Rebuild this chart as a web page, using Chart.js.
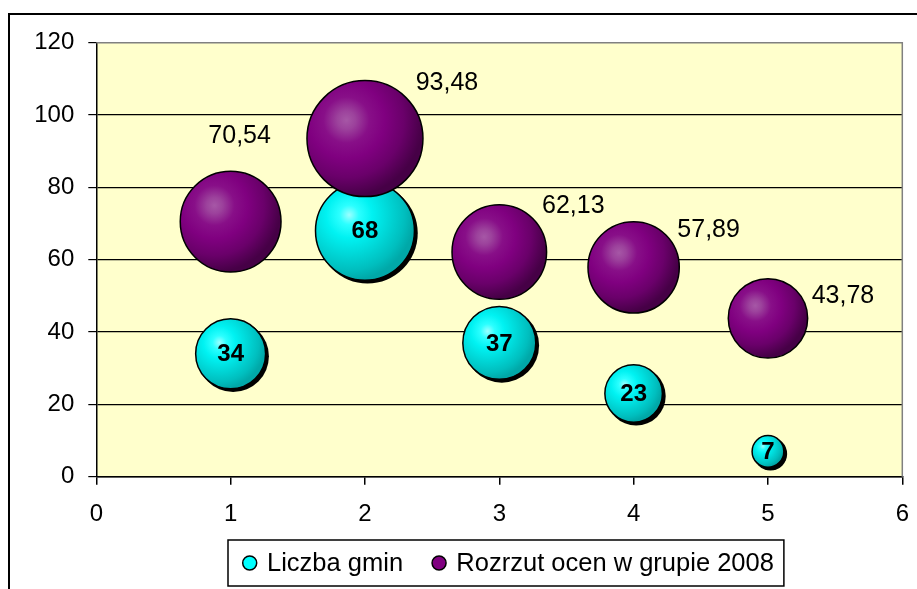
<!DOCTYPE html>
<html>
<head>
<meta charset="utf-8">
<script src="https://cdn.jsdelivr.net/npm/chart.js@4/dist/chart.umd.min.js"></script>
<style>
  html, body { margin: 0; padding: 0; background: #ffffff; }
  #wrap { width: 917px; height: 589px; position: relative; }
</style>
</head>
<body>
<div id="wrap"><canvas id="c" width="917" height="589"></canvas></div>
<script>
// ---- data ----
const xCategories = [1, 2, 3, 4, 5];
const liczbaGmin = [34, 68, 37, 23, 7];
const rozrzutOcen = [70.54, 93.48, 62.13, 57.89, 43.78];
const seriesNames = ['Liczba gmin', 'Rozrzut ocen w grupie 2008'];
const xTicks = [0, 1, 2, 3, 4, 5, 6];
const yTicks = [0, 20, 40, 60, 80, 100, 120];

// ---- styling ----
const FONT = "'Liberation Sans', Arial, sans-serif";
const MAX_R = 58; // pixel radius of the largest bubble (area-proportional sizing)
const maxSize = Math.max(...liczbaGmin, ...rozrzutOcen);
const radiusFor = s => MAX_R * Math.sqrt(s / maxSize);

// label offsets (pixels) for purple series labels relative to bubble centers
const purpleLabelOffsets = [[9, -86], [82, -57], [74, -47], [75, -38], [75, -23]];

function toPoints(vals) {
  return xCategories.map((x, i) => ({ x: x, y: vals[i], r: radiusFor(vals[i]) }));
}

function gradientFn(stops, fallback) {
  return function (ctx) {
    const chart = ctx.chart;
    if (ctx.type !== 'data' || !chart.chartArea || !chart.scales.x) return fallback;
    const raw = ctx.raw;
    const x = chart.scales.x.getPixelForValue(raw.x);
    const y = chart.scales.y.getPixelForValue(raw.y);
    const r = raw.r;
    const gx = x - 0.32 * r, gy = y - 0.32 * r;
    const g = chart.ctx.createRadialGradient(gx, gy, 0, gx, gy, 1.32 * r);
    stops.forEach(s => g.addColorStop(s[0], s[1]));
    return g;
  };
}

const purpleStops = [[0, '#A657A6'], [0.12, '#9C429C'], [0.3, '#880F88'], [0.5, '#800080'], [0.75, '#6A006A'], [1, '#460046']];
const cyanStops = [[0, '#9CFFFF'], [0.15, '#2BFFFF'], [0.35, '#00F2F2'], [0.6, '#00D8D8'], [0.85, '#00BEBE'], [1, '#00A8A8']];

const bgPlugin = {
  id: 'bg',
  beforeDraw(chart) {
    const { ctx, chartArea: a } = chart;
    ctx.save();
    ctx.fillStyle = '#FFFFCC';
    ctx.fillRect(a.left, a.top, a.right - a.left, a.bottom - a.top);
    ctx.restore();
  },
  afterDraw(chart) {
    const { ctx, chartArea: a } = chart;
    ctx.save();
    ctx.strokeStyle = '#808080';
    ctx.lineWidth = 1.5;
    ctx.beginPath();
    ctx.moveTo(a.left, a.top);
    ctx.lineTo(a.right, a.top);
    ctx.lineTo(a.right, a.bottom);
    ctx.stroke();
    ctx.strokeStyle = '#000000';
    ctx.lineWidth = 2;
    ctx.strokeRect(9, 14, 930, 600);
    ctx.restore();
    drawLegend(chart);
  }
};

// solid offset shadow under the cyan bubbles
const shadowPlugin = {
  id: 'shadow',
  beforeDatasetDraw(chart, args) {
    if (args.index !== 0) return;
    const ctx = chart.ctx;
    ctx.save();
    ctx.fillStyle = '#000';
    args.meta.data.forEach(el => {
      const r = el.options.radius;
      ctx.beginPath();
      ctx.arc(el.x + 2.5, el.y + 2.5, r + 0.8, 0, Math.PI * 2);
      ctx.fill();
    });
    ctx.restore();
  }
};

const labelPlugin = {
  id: 'labels',
  afterDatasetsDraw(chart) {
    const ctx = chart.ctx;
    const xs = chart.scales.x, ys = chart.scales.y;
    ctx.save();
    ctx.textAlign = 'center';
    ctx.textBaseline = 'middle';
    ctx.fillStyle = '#000';
    ctx.font = 'bold 24px ' + FONT;
    liczbaGmin.forEach((v, i) => {
      const x = xs.getPixelForValue(xCategories[i]);
      const y = ys.getPixelForValue(v);
      ctx.fillText(String(v), x, y + 1);
    });
    ctx.font = '25px ' + FONT;
    rozrzutOcen.forEach((v, i) => {
      const x = xs.getPixelForValue(xCategories[i]);
      const y = ys.getPixelForValue(v);
      const o = purpleLabelOffsets[i];
      ctx.fillText(v.toFixed(2).replace('.', ','), x + o[0], y + o[1] + 1);
    });
    ctx.restore();
  }
};

function drawLegend(chart) {
  const ctx = chart.ctx;
  ctx.save();
  ctx.font = '25.5px ' + FONT;
  const colors = ['#00FFFF', '#800080'];
  const left = 228, top = 540, h = 46;
  const cy = top + h / 2;
  let x = left + 21.7;
  const pos = [];
  seriesNames.forEach((name) => {
    const w = ctx.measureText(name).width;
    pos.push([x, x + 17.3, w]);
    x = x + 17.3 + w + 36;
  });
  const last = pos[pos.length - 1];
  const right = last[1] + last[2] + 10;
  ctx.lineWidth = 1.5;
  ctx.strokeStyle = '#000';
  ctx.fillStyle = '#fff';
  ctx.fillRect(left, top, right - left, h);
  ctx.strokeRect(left, top, right - left, h);
  pos.forEach((p, i) => {
    ctx.beginPath();
    ctx.arc(p[0], cy, 7, 0, Math.PI * 2);
    ctx.fillStyle = colors[i];
    ctx.fill();
    ctx.lineWidth = 1.5;
    ctx.stroke();
    ctx.fillStyle = '#000';
    ctx.textAlign = 'left';
    ctx.textBaseline = 'middle';
    ctx.fillText(seriesNames[i], p[1], cy + 1);
  });
  ctx.restore();
}

new Chart(document.getElementById('c'), {
  type: 'bubble',
  data: {
    datasets: [
      {
        label: seriesNames[0],
        data: toPoints(liczbaGmin),
        backgroundColor: gradientFn(cyanStops, '#00E0E0'),
        borderColor: '#000',
        borderWidth: 1.5,
        clip: false,
        order: 1
      },
      {
        label: seriesNames[1],
        data: toPoints(rozrzutOcen),
        backgroundColor: gradientFn(purpleStops, '#800080'),
        borderColor: '#000',
        borderWidth: 1.5,
        clip: false,
        order: 0
      }
    ]
  },
  options: {
    responsive: false,
    animation: false,
    events: [],
    layout: { autoPadding: false, padding: { left: 0, top: 42.7, right: 14.7, bottom: 62.3 } },
    plugins: {
      legend: { display: false },
      tooltip: { enabled: false }
    },
    scales: {
      x: {
        type: 'linear',
        min: xTicks[0],
        max: xTicks[xTicks.length - 1],
        afterBuildTicks: s => { s.ticks = xTicks.map(v => ({ value: v })); },
        afterFit: s => { s.height = 50; s.paddingLeft = 0; s.paddingRight = 0; },
        ticks: { color: '#000', font: { family: FONT, size: 24 }, padding: 15, maxRotation: 0 },
        grid: { drawOnChartArea: false, drawTicks: true, tickLength: 8, color: '#000', tickColor: '#000', lineWidth: 1.5 },
        border: { display: true, color: '#000', width: 1.5 }
      },
      y: {
        type: 'linear',
        min: yTicks[0],
        max: yTicks[yTicks.length - 1],
        afterBuildTicks: s => { s.ticks = yTicks.map(v => ({ value: v })); },
        afterFit: s => { s.width = 96.3; s.paddingTop = 0; s.paddingBottom = 0; },
        ticks: { color: '#000', font: { family: FONT, size: 24 }, padding: 14 },
        grid: {
          color: c => (c.tick && c.tick.value === yTicks[yTicks.length - 1]) ? 'rgba(0,0,0,0)' : '#000',
          tickColor: '#000',
          lineWidth: 1.2,
          tickLength: 8
        },
        border: { display: true, color: '#000', width: 1.5 }
      }
    }
  },
  plugins: [bgPlugin, shadowPlugin, labelPlugin]
});
</script>
</body>
</html>
